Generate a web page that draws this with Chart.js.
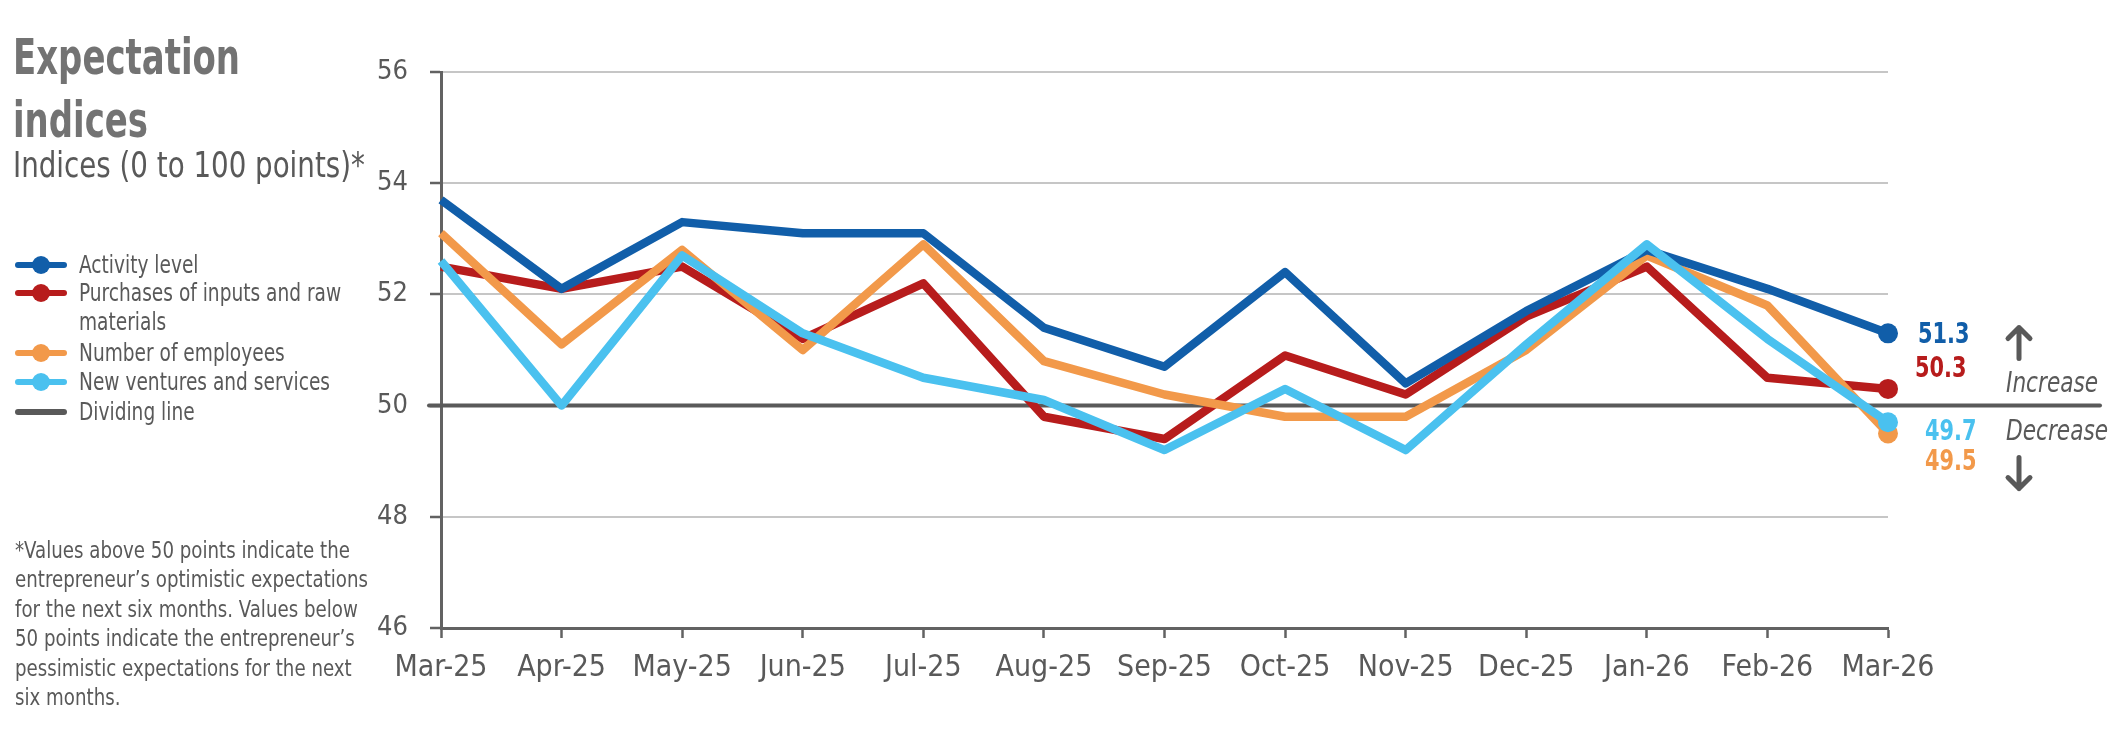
<!DOCTYPE html>
<html>
<head>
<meta charset="utf-8">
<script src="https://cdn.jsdelivr.net/npm/chart.js@4"></script>
<style>
  body { margin: 0; background: #fff; width: 2126px; height: 730px; overflow: hidden; position: relative;
         font-family: 'DejaVu Sans Condensed', 'Liberation Sans Narrow', 'Noto Sans', sans-serif; color: #595959; }
  #grafico { position: absolute; left: 0; top: 0; }
  .txt { position: absolute; white-space: nowrap; transform-origin: left top; }
  #titulo { left: 13px; top: 26px; font-size: 49px; font-weight: bold; line-height: 63px; color: #737373; transform: scaleX(0.77); }
  #subtitulo { left: 13px; top: 145px; font-size: 35px; color: #595959; transform: scaleX(0.88); }
  #legenda { position: absolute; left: 0; top: 250px; }
  .item { position: absolute; left: 79px; font-size: 25.5px; line-height: 29px; white-space: nowrap; transform-origin: left top; transform: scaleX(0.81); }
  .traco { position: absolute; left: 15px; width: 52px; height: 6px; border-radius: 3px; }
  .bola { position: absolute; left: 32px; width: 18px; height: 18px; border-radius: 50%; }
  #nota { left: 15px; top: 536px; font-size: 23px; line-height: 29.4px; transform: scaleX(0.88); }
</style>
</head>
<body>
<canvas id="grafico" width="2126" height="730"></canvas>
<div class="txt" id="titulo">Expectation<br>indices</div>
<div class="txt" id="subtitulo">Indices (0 to 100 points)*</div>
<div id="legenda"></div>
<div class="txt" id="nota">*Values above 50 points indicate the<br>entrepreneur’s optimistic expectations<br>for the next six months. Values below<br>50 points indicate the entrepreneur’s<br>pessimistic expectations for the next<br>six months.</div>

<script>
// dados
const meses = ["Mar-25", "Apr-25", "May-25", "Jun-25", "Jul-25", "Aug-25", "Sep-25",
               "Oct-25", "Nov-25", "Dec-25", "Jan-26", "Feb-26", "Mar-26"];
const nivelAtividade       = [53.7, 52.1, 53.3, 53.1, 53.1, 51.4, 50.7, 52.4, 50.4, 51.7, 52.8, 52.1, 51.3];
const comprasInsumos       = [52.5, 52.1, 52.5, 51.2, 52.2, 49.8, 49.4, 50.9, 50.2, 51.6, 52.5, 50.5, 50.3];
const numeroEmpregados     = [53.1, 51.1, 52.8, 51.0, 52.9, 50.8, 50.2, 49.8, 49.8, 51.0, 52.7, 51.8, 49.5];
const novosEmpreendimentos = [52.6, 50.0, 52.7, 51.3, 50.5, 50.1, 49.2, 50.3, 49.2, 51.1, 52.9, 51.2, 49.7];
const ticksY = [46, 48, 50, 52, 54, 56];
const linhaDivisoria = 50;

const nomes = ["Activity level", "Purchases of inputs and raw<br>materials", "Number of employees", "New ventures and services"];
const cores = ["#115ea9", "#b71c1c", "#f2994a", "#4ac1ef"];
const ordem = [1, 3, 2, 0];
// deslocamento do rótulo final (x, y) em px
const offsetRotulo = [[30, 2], [27, -19], [37, 29], [37, 10]];
const corTexto = "#595959";
const corEixo = "#626262";
const fonte = "'DejaVu Sans Condensed', 'Liberation Sans Narrow', 'Noto Sans', sans-serif";

const series = [nivelAtividade, comprasInsumos, numeroEmpregados, novosEmpreendimentos];
const ultimo = meses.length - 1;

Chart.defaults.font.family = fonte;
Chart.defaults.color = corTexto;

// legenda em HTML
const legenda = document.getElementById("legenda");
const linhasY = [15, 43, 103, 132];
nomes.forEach((n, i) => {
  const y = linhasY[i];
  legenda.innerHTML += `<div class="traco" style="top:${y - 3}px;background:${cores[i]}"></div>
    <div class="bola" style="top:${y - 9}px;background:${cores[i]}"></div>
    <div class="item" style="top:${y - 15}px">${n}</div>`;
});
legenda.innerHTML += `<div class="traco" style="top:${162 - 3}px;background:#595959"></div>
  <div class="item" style="top:${162 - 15}px">Dividing line</div>`;

// texto estreito no canvas
function textoEstreito(ctx, txt, x, y, escala) {
  ctx.save();
  ctx.translate(x, y);
  ctx.scale(escala, 1);
  ctx.fillText(txt, 0, 0);
  ctx.restore();
}

const pluginLinha = {
  id: "linhaDivisoria",
  beforeDatasetsDraw(chart) {
    const { ctx, chartArea, scales } = chart;
    const y = scales.y.getPixelForValue(linhaDivisoria);
    ctx.save();
    ctx.strokeStyle = "#5a5a5a";
    ctx.lineWidth = 4;
    ctx.lineCap = "round";
    ctx.beginPath();
    ctx.moveTo(chartArea.left - 12, y);
    ctx.lineTo(2100, y);
    ctx.stroke();
    ctx.restore();
  },
  afterDatasetsDraw(chart) {
    const { ctx, scales } = chart;
    const x = scales.x.getPixelForValue(ultimo);
    ctx.save();
    ctx.textBaseline = "middle";
    ctx.textAlign = "left";
    ctx.font = "bold 29px " + fonte;
    series.forEach((s, i) => {
      const y = scales.y.getPixelForValue(s[ultimo]);
      ctx.fillStyle = cores[i];
      textoEstreito(ctx, s[ultimo].toFixed(1), x + offsetRotulo[i][0], y + offsetRotulo[i][1], 0.8);
    });
    // increase / decrease
    const y50 = scales.y.getPixelForValue(linhaDivisoria);
    ctx.fillStyle = corTexto;
    ctx.font = "italic 28px " + fonte;
    textoEstreito(ctx, "Increase", 2006, y50 - 21, 0.86);
    textoEstreito(ctx, "Decrease", 2006, y50 + 27, 0.86);
    ctx.strokeStyle = "#595959";
    ctx.lineWidth = 5;
    ctx.lineCap = "round";
    ctx.lineJoin = "round";
    const ax = 2019;
    ctx.beginPath();
    ctx.moveTo(ax, y50 - 47); ctx.lineTo(ax, y50 - 78);
    ctx.moveTo(ax - 11, y50 - 67); ctx.lineTo(ax, y50 - 78); ctx.lineTo(ax + 11, y50 - 67);
    ctx.moveTo(ax, y50 + 52); ctx.lineTo(ax, y50 + 83);
    ctx.moveTo(ax - 11, y50 + 72); ctx.lineTo(ax, y50 + 83); ctx.lineTo(ax + 11, y50 + 72);
    ctx.stroke();
    ctx.restore();
  }
};

new Chart(document.getElementById("grafico").getContext("2d"), {
  type: "line",
  data: {
    labels: meses,
    datasets: series.map((s, i) => ({
      label: nomes[i].replace("<br>", " "),
      data: s,
      borderColor: cores[i],
      backgroundColor: cores[i],
      borderWidth: 8.5,
      order: ordem[i],
      tension: 0,
      borderJoinStyle: "round",
      pointRadius: ctx => ctx.dataIndex === ultimo ? 10 : 0,
      pointBorderWidth: 0,
      pointHoverRadius: 0
    }))
  },
  options: {
    responsive: false,
    devicePixelRatio: 1,
    animation: false,
    layout: { padding: { left: 0, top: 72, right: 238, bottom: 0 } },
    plugins: { legend: { display: false }, tooltip: { enabled: false } },
    scales: {
      x: {
        offset: false,
        afterFit: s => { s.height = 102; },
        border: { color: corEixo, width: 3 },
        grid: { drawOnChartArea: false, drawTicks: true, tickLength: 10, tickColor: corEixo, tickWidth: 2.5 },
        ticks: { font: { size: 30 }, padding: 12, maxRotation: 0, autoSkip: false, color: corTexto }
      },
      y: {
        min: 46,
        max: 56,
        afterFit: s => { s.width = 441; },
        afterBuildTicks: s => { s.ticks = ticksY.map(v => ({ value: v })); },
        border: { color: corEixo, width: 3 },
        grid: {
          color: ctx => (ctx.tick && (ctx.tick.value === 46 || ctx.tick.value === linhaDivisoria)) ? "rgba(0,0,0,0)" : "#c6c6c6",
          lineWidth: 2,
          tickLength: 11,
          tickColor: corEixo,
          tickWidth: 2.5
        },
        ticks: { font: { size: 27 }, padding: 22, color: corTexto }
      }
    }
  },
  plugins: [pluginLinha]
});
</script>
</body>
</html>
